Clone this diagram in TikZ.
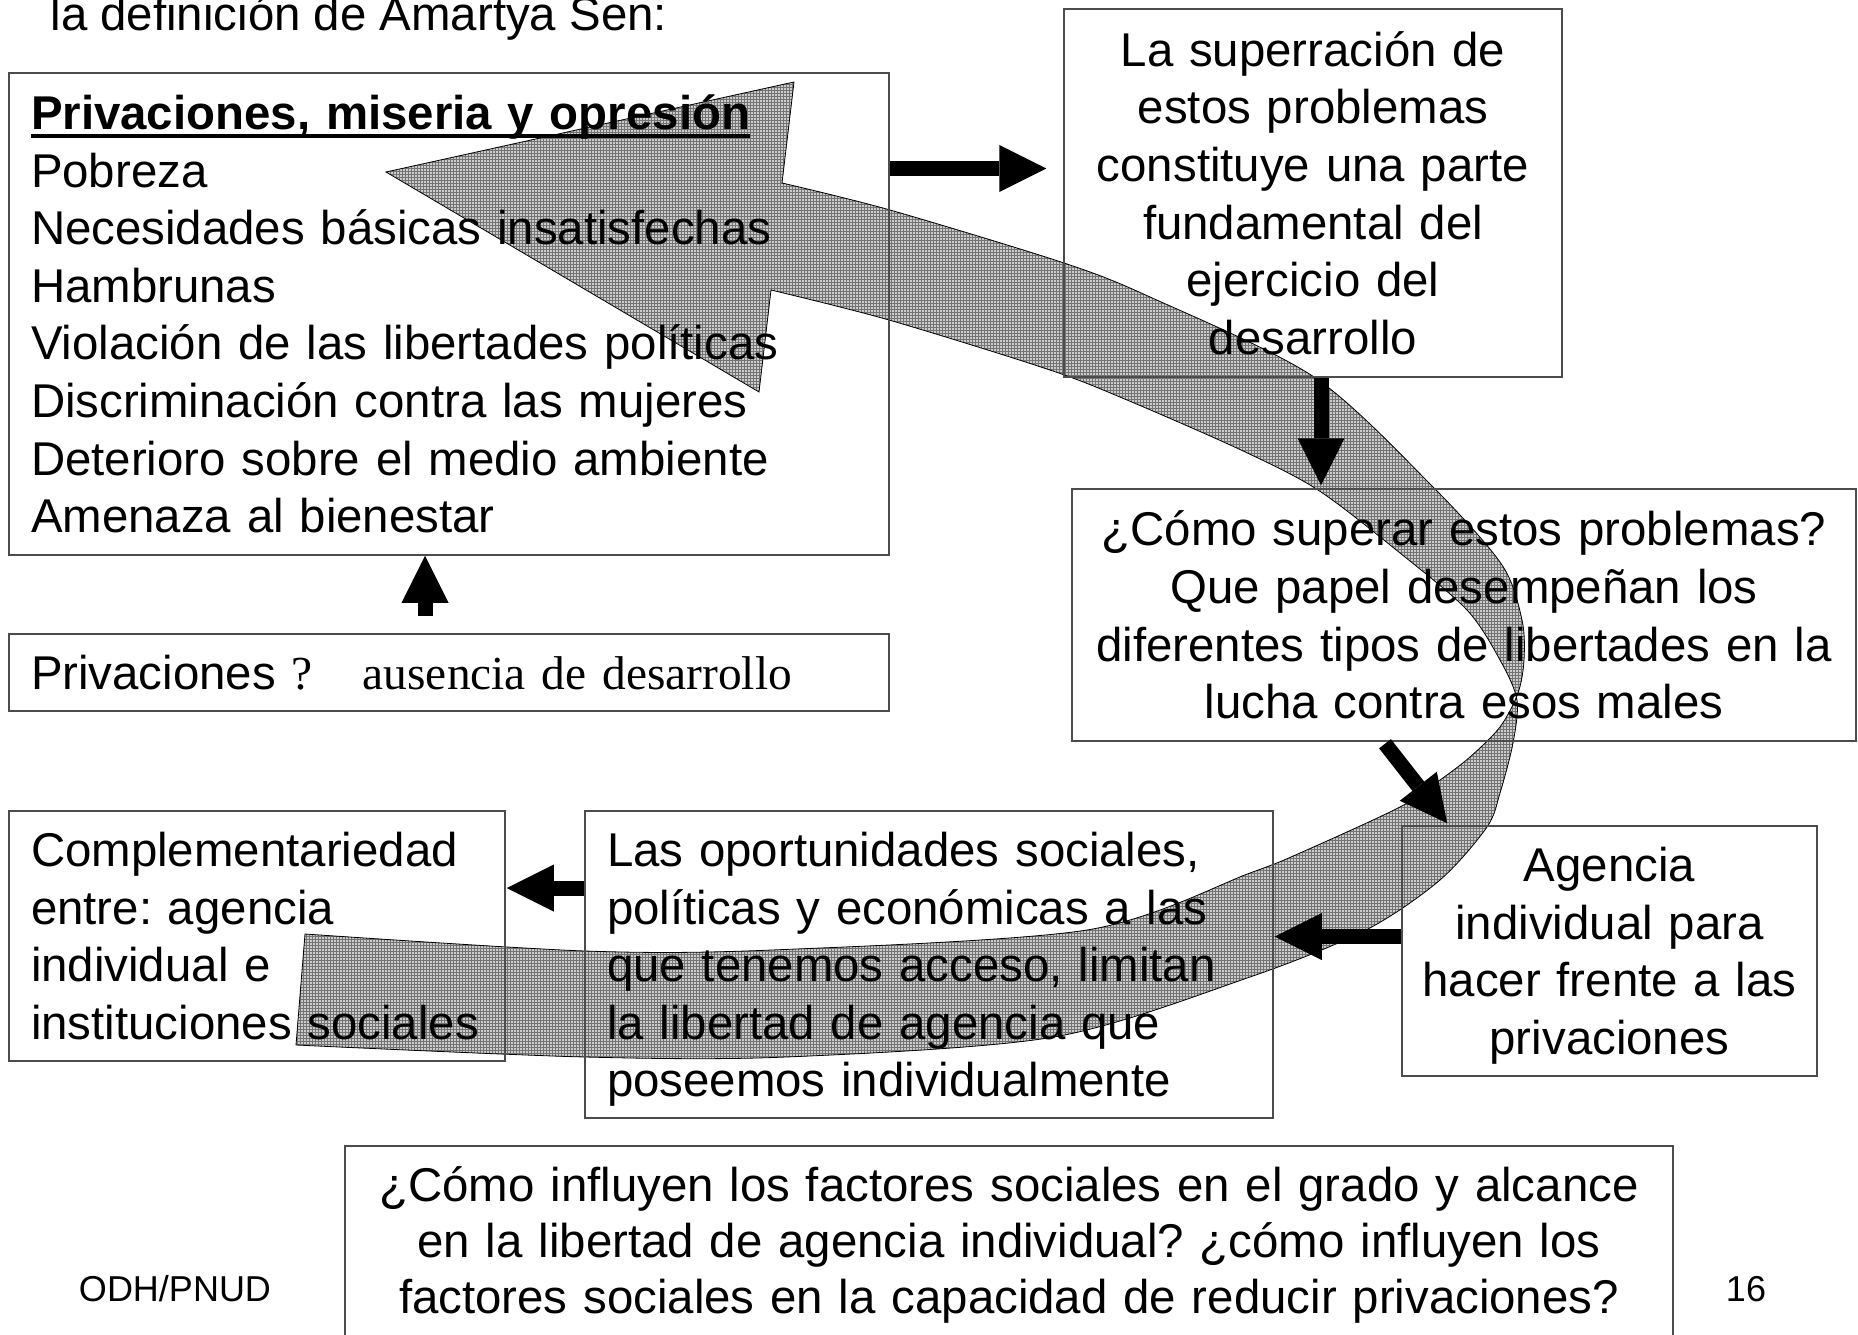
\documentclass[tikz,border=0pt]{standalone}
\usepackage{fontspec}
\setmainfont{Liberation Sans}
\newfontfamily\timesface{Liberation Serif}
\newcommand{\ulhead}[1]{\setbox0\hbox{#1}\rlap{\rule[-8pt]{\wd0}{3.5pt}}\box0}
\frenchspacing
\usepackage{tikz}
\usetikzlibrary{arrows.meta, calc, patterns}
\pgfdeclarepatternformonly{bandgrid}{\pgfqpoint{-1pt}{-1pt}}{\pgfqpoint{4pt}{4pt}}{\pgfqpoint{3pt}{3pt}}{
  \pgfsetlinewidth{0.8pt}
  \pgfpathmoveto{\pgfqpoint{-0.5pt}{0pt}}\pgfpathlineto{\pgfqpoint{3.5pt}{0pt}}
  \pgfpathmoveto{\pgfqpoint{0pt}{-0.5pt}}\pgfpathlineto{\pgfqpoint{0pt}{3.5pt}}
  \pgfusepath{stroke}
}
\tikzstyle{box} = [draw=black!70, line width=1.5pt, inner xsep=22pt, inner ysep=0pt]
\tikzstyle{blockarrow} = [line width=15pt, -{Triangle[length=47pt,width=47pt,line width=0pt]}]
\tikzstyle{band} = [draw=black, line width=0.8pt, preaction={fill=black!20}, pattern=bandgrid, pattern color=black!55]

\begin{document}
\begin{tikzpicture}[x=1pt, y=-1pt, font=\fontsize{47.4}{57.6}\selectfont]
\useasboundingbox (0,0) rectangle (1858,1335);

% curved ribbon arrow
\draw[band] (782,183) -- (794,82) -- (386,172) -- (759,392) -- (771,290)
  -- plot[smooth] coordinates {(771,290) (889,320) (1050,370) (1127,400) (1241,450) (1318,490) (1400,553) (1467,610) (1500,660) (1517,700) (1513,743) (1500,793) (1487,827) (1440,880) (1366,930) (1250,977) (1054,1037) (786,1057) (585,1057) (296,1045)}
  -- (305,934)
  -- plot[smooth] coordinates {(305,934) (585,951) (772,950) (1087,930) (1250,873) (1300,853) (1400,807) (1440,780) (1470,757) (1500,727) (1518,693) (1524,660) (1522,620) (1502,565) (1433,487) (1314,377) (1150,297) (1064,263) (890,210) (782,183)}
  -- cycle;

\node[anchor=base west] (title) at (47,31) {la definición de Amartya Sen:};

\node[box, minimum width=880pt, minimum height=482pt, text width=836pt, align=left] (A) at (449,314)
  {\ulhead{\bfseries Privaciones, miseria y opresión}\\ Pobreza\\ Necesidades básicas insatisfechas\\ Hambrunas\\ Violación de las libertades políticas\\ Discriminación contra las mujeres\\ Deterioro sobre el medio ambiente\\ Amenaza al bienestar};
\node[box, minimum width=880pt, minimum height=77pt, text width=836pt, align=left] (B) at (449,672.5)
  {Privaciones {\timesface ?\hspace{50pt}ausencia de desarrollo}};
\node[box, minimum width=498pt, minimum height=368pt, text width=470pt, inner xsep=14pt, align=center] (C) at (1313,193)
  {La superración de\\ estos problemas\\ constituye una parte\\ fundamental del\\ ejercicio del\\ desarrollo};
\node[box, minimum width=784pt, minimum height=252pt, text width=770pt, inner xsep=7pt, align=center] (D) at (1464,615)
  {¿Cómo superar estos problemas?\\ Que papel desempeñan los\\ diferentes tipos de libertades en la\\ lucha contra esos males};
\node[box, minimum width=415pt, minimum height=250pt, text width=400pt, inner xsep=7.5pt, align=center] (E) at (1609.5,951)
  {Agencia\\ individual para\\ hacer frente a las\\ \smash{privaciones}};
\node[box, minimum width=688pt, minimum height=307pt, text width=644pt, align=left] (F) at (929,964.5)
  {Las oportunidades sociales,\\ políticas y económicas a las\\ que tenemos acceso, limitan\\ la libertad de agencia que\\ \smash{poseemos individualmente}};
\node[box, minimum width=496pt, minimum height=250pt, text width=452pt, align=left] (G) at (257,936)
  {Complementariedad\\ entre: agencia\\ individual e\\ instituciones sociales};
\node[box, minimum width=1328pt, minimum height=198pt, text width=1300pt, inner xsep=14pt, align=center,
  font=\fontsize{47.4}{56}\selectfont] (H) at (1009,1245)
  {¿Cómo influyen los factores sociales en el grado y alcance\\ en la libertad de agencia individual? ¿cómo influyen los\\ factores sociales en la capacidad de reducir privaciones?};

\node[font=\fontsize{36}{43}\selectfont] (odh) at (175,1289) {ODH/PNUD};
\node[font=\fontsize{36}{43}\selectfont] (pagenum) at (1746,1289) {16};

% block arrows
\draw[blockarrow] ($(A.east)+(0,-145.5)$) -- ($(A.east -| C.west)+(-17,-145.5)$);
\draw[blockarrow] ($(C.south)+(8,0)$) -- ($(D.north -| C.south)+(8,-3)$);
\draw[blockarrow] ($(D.south)+(-79,2)$) -- ($(E.north west)+(46,-2)$);
\draw[blockarrow] ($(E.west)+(0,-14.5)$) -- ($(E.west -| F.east)+(1,-14.5)$);
\draw[blockarrow] ($(F.west)+(0,-76.5)$) -- ($(F.west -| G.east)+(1,-76.5)$);
\draw[blockarrow] ($(B.north)+(-24,-17)$) -- ($(A.south)+(-24,0)$);
\end{tikzpicture}
\end{document}
